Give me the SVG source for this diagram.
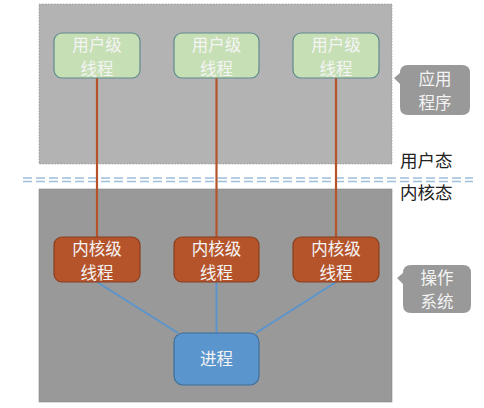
<svg xmlns="http://www.w3.org/2000/svg" width="484" height="408" viewBox="0 0 484 408">
<style>
.t{font-family:"Noto Sans CJK SC","Noto Sans",sans-serif;text-anchor:middle}
.w{fill:#f4f4f4;font-size:16.5px}
.user{fill:#c6dfb5;stroke:#5f8a8e;stroke-width:1.2}
.kern{fill:#b5532a;stroke:#8a3e20;stroke-width:1.2}
.proc{fill:#5b95cd;stroke:#3f6f9c;stroke-width:1.2}
.lbl{fill:#222;font-size:17.5px;text-anchor:start}
</style>
<rect width="484" height="408" fill="#fff"/>
<rect x="39" y="4" width="353" height="160" fill="#b3b3b3" stroke="#8c8c8c" stroke-width="0.6" stroke-dasharray="1.5 1.5"/>
<rect x="39" y="189" width="353" height="213" fill="#999999" stroke="#888" stroke-width="0.6"/>
<g id="divider" stroke="#9dbfdc" stroke-width="1.6" stroke-dasharray="9 4">
<line x1="23" y1="178" x2="473" y2="178"/>
<line x1="23" y1="181.5" x2="473" y2="181.5"/>
</g>
<g id="connectors">
<g stroke="#b5532a" stroke-width="2.2">
<line x1="97" y1="78" x2="97" y2="237"/>
<line x1="216.5" y1="78" x2="216.5" y2="237"/>
<line x1="336" y1="78" x2="336" y2="237"/>
</g>
<g stroke="#5b95cd" stroke-width="2">
<line x1="97" y1="282" x2="178" y2="333"/>
<line x1="216.5" y1="282" x2="216.5" y2="333"/>
<line x1="336" y1="282" x2="256" y2="333"/>
</g>
</g>
<g id="u1"><rect class="user" x="54" y="33" width="86" height="45" rx="8"/><text class="t w" x="97" y="50.5">用户级</text><text class="t w" x="97" y="74.5">线程</text></g>
<g id="u2"><rect class="user" x="174" y="33" width="85" height="45" rx="8"/><text class="t w" x="216.5" y="50.5">用户级</text><text class="t w" x="216.5" y="74.5">线程</text></g>
<g id="u3"><rect class="user" x="293" y="33" width="86" height="45" rx="8"/><text class="t w" x="336" y="50.5">用户级</text><text class="t w" x="336" y="74.5">线程</text></g>
<g id="k1"><rect class="kern" x="54" y="237" width="86" height="45" rx="8"/><text class="t w" x="97" y="254.5">内核级</text><text class="t w" x="97" y="278.5">线程</text></g>
<g id="k2"><rect class="kern" x="174" y="237" width="85" height="45" rx="8"/><text class="t w" x="216.5" y="254.5">内核级</text><text class="t w" x="216.5" y="278.5">线程</text></g>
<g id="k3"><rect class="kern" x="293" y="237" width="86" height="45" rx="8"/><text class="t w" x="336" y="254.5">内核级</text><text class="t w" x="336" y="278.5">线程</text></g>
<g id="proc"><rect class="proc" x="174" y="333" width="85" height="52" rx="9"/><text class="t w" x="216.5" y="365">进程</text></g>
<g id="app"><path d="M408,65 H462 Q470,65 470,73 V107 Q470,115 462,115 H408 Q400,115 400,107 V84 L394,78 L400,73 Q400,65 408,65 Z" fill="#999999"/><text class="t w" x="435" y="85">应用</text><text class="t w" x="435" y="109">程序</text></g>
<g id="os"><path d="M411,265 H463 Q471,265 471,273 V305 Q471,313 463,313 H411 Q403,313 403,305 V284 L397,278 L403,273 Q403,265 411,265 Z" fill="#999999"/><text class="t w" x="437" y="284">操作</text><text class="t w" x="437" y="308">系统</text></g>
<text class="t lbl" x="400" y="167">用户态</text>
<text class="t lbl" x="400" y="199">内核态</text>
</svg>
